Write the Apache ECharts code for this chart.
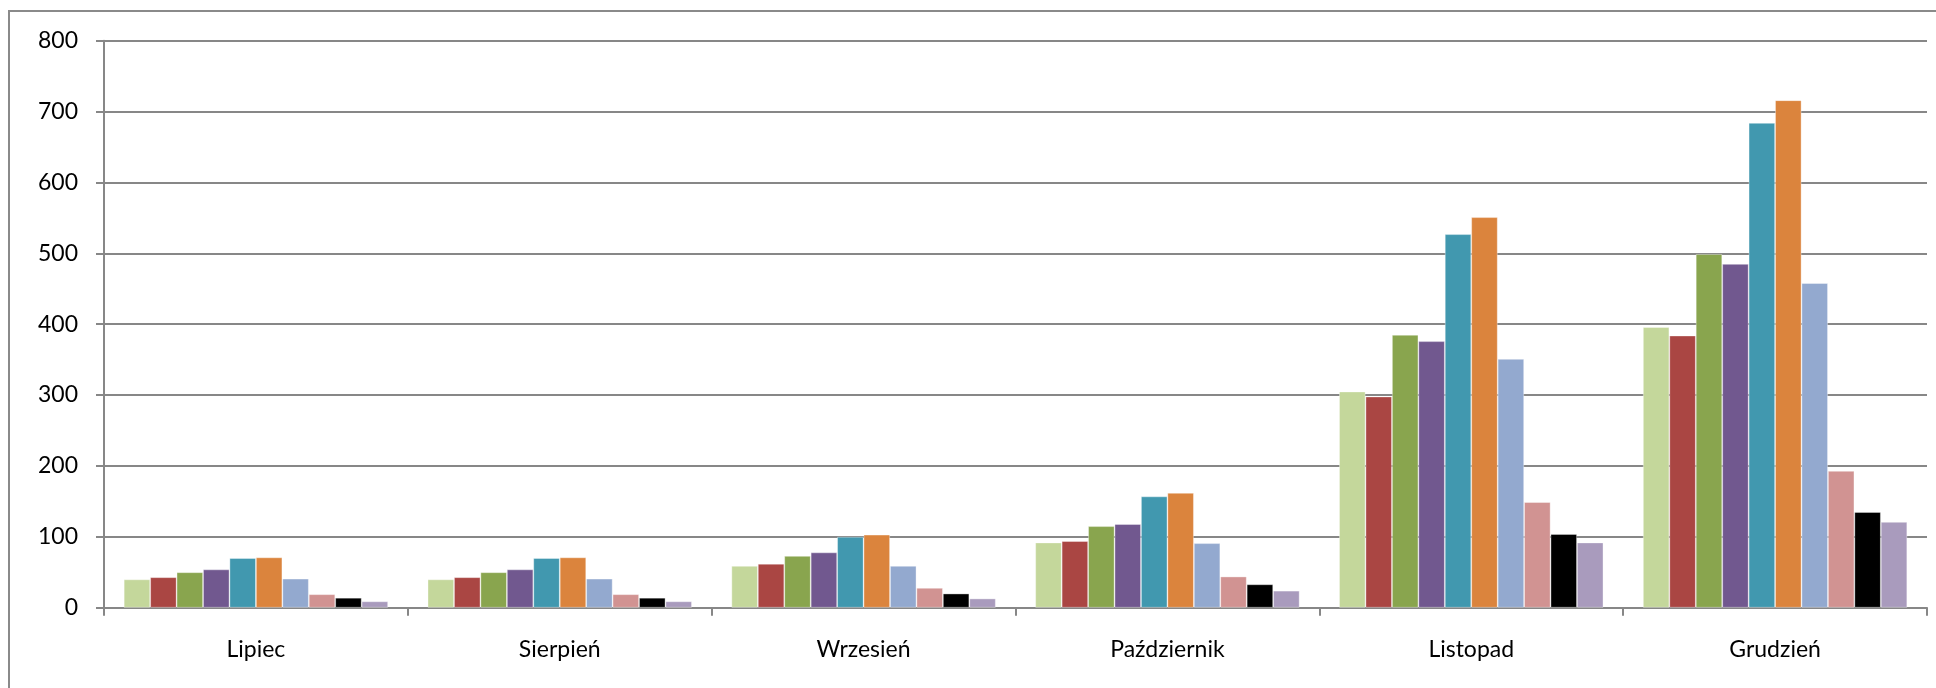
<!DOCTYPE html>
<html>
<head>
<meta charset="utf-8">
<script src="https://cdn.jsdelivr.net/npm/echarts@6/dist/echarts.min.js"></script>
<style>
html,body{margin:0;padding:0;background:#fff;}
#chart{width:1936px;height:688px;}
</style>
</head>
<body>
<div id="chart"></div>
<script>
const categories = ['Lipiec', 'Sierpień', 'Wrzesień', 'Październik', 'Listopad', 'Grudzień'];
const yTicks = [0, 100, 200, 300, 400, 500, 600, 700, 800];

const s1 = [40, 40, 59, 92, 305, 396];
const s2 = [43, 43, 62, 94, 298, 384];
const s3 = [50, 50, 73, 115, 385, 499];
const s4 = [54, 54, 78, 118, 376, 485];
const s5 = [70, 70, 100, 157, 527, 684];
const s6 = [71, 71, 103, 162, 551, 716];
const s7 = [41, 41, 59, 91, 351, 458];
const s8 = [19, 19, 28, 44, 149, 193];
const s9 = [14, 14, 20, 33, 104, 135];
const s10 = [9, 9, 13, 24, 92, 121];

const seriesNames = ['Seria 1','Seria 2','Seria 3','Seria 4','Seria 5','Seria 6','Seria 7','Seria 8','Seria 9','Seria 10'];
const seriesData = [s1, s2, s3, s4, s5, s6, s7, s8, s9, s10];
const colors = ['#C4D79B','#AA4643','#89A54E','#71588F','#4198AF','#DB843D','#93A9CF','#D19392','#000000','#A99BBD'];

const chart = echarts.init(document.getElementById('chart'), null, {renderer: 'canvas'});
const FONT = 'Lato, "Open Sans", sans-serif';
const LINE = '#878787';
chart.setOption({
  animation: false,
  backgroundColor: '#ffffff',
  graphic: [{
    type: 'rect',
    shape: {x: 9, y: 11, width: 1960, height: 720},
    style: {fill: 'none', stroke: '#8a8a8a', lineWidth: 2},
    silent: true,
    z: -1
  }],
  grid: {left: 104, right: 9, top: 40.7, bottom: 80.3, outerBoundsMode: 'none', containLabel: false},
  xAxis: {
    type: 'category',
    data: categories,
    boundaryGap: true,
    axisLine: {show: true, lineStyle: {color: LINE, width: 2}},
    axisTick: {show: true, length: 8, interval: 0, lineStyle: {color: LINE, width: 2}},
    axisLabel: {color: '#000', fontFamily: FONT, fontSize: 23, margin: 30, interval: 0}
  },
  yAxis: {
    type: 'value',
    min: yTicks[0],
    max: yTicks[yTicks.length - 1],
    interval: yTicks[1] - yTicks[0],
    axisLine: {show: true, lineStyle: {color: LINE, width: 2}},
    axisTick: {show: true, length: 8, lineStyle: {color: LINE, width: 2}},
    splitLine: {show: true, lineStyle: {color: LINE, width: 2}},
    axisLabel: {color: '#000', fontFamily: FONT, fontSize: 23, margin: 26}
  },
  series: seriesData.map((d, i) => ({
    name: seriesNames[i],
    type: 'bar',
    data: d,
    barGap: '0%',
    barCategoryGap: '13%',
    itemStyle: {color: colors[i], borderColor: 'rgba(255,255,255,0.45)', borderWidth: 0.8}
  }))
});
</script>
</body>
</html>
